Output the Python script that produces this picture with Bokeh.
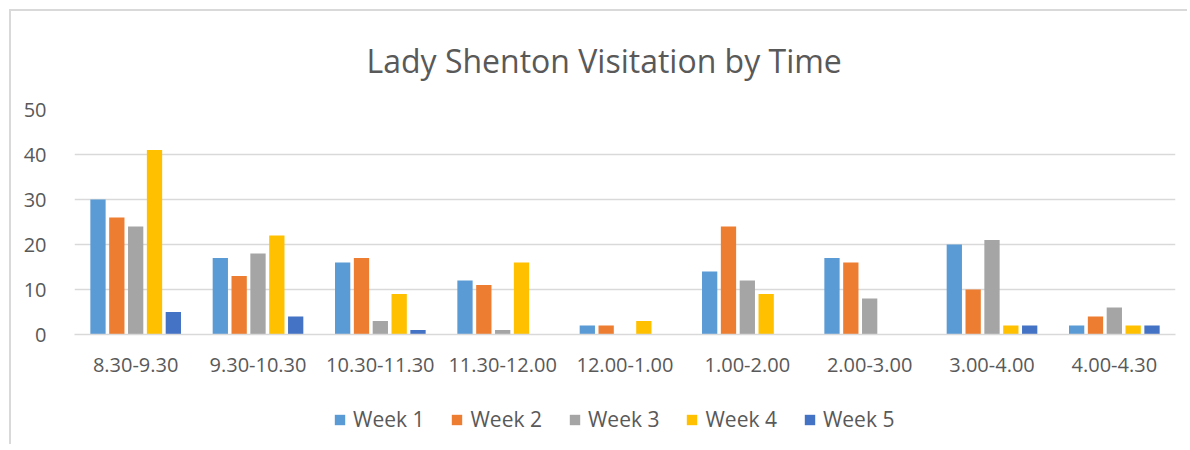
from bokeh.plotting import figure
from bokeh.layouts import column
from bokeh.models import ColumnDataSource, FactorRange, Legend, LegendItem, SingleIntervalTicker, Range1d
from bokeh.transform import dodge
from bokeh.embed import file_html
from bokeh.resources import INLINE

categories = ["8.30-9.30", "9.30-10.30", "10.30-11.30", "11.30-12.00", "12.00-1.00",
              "1.00-2.00", "2.00-3.00", "3.00-4.00", "4.00-4.30"]
series_names = ["Week 1", "Week 2", "Week 3", "Week 4", "Week 5"]
week1 = [30, 17, 16, 12, 2, 14, 17, 20, 2]
week2 = [26, 13, 17, 11, 2, 24, 16, 10, 4]
week3 = [24, 18, 3, 1, 0, 12, 8, 21, 6]
week4 = [41, 22, 9, 16, 3, 9, 0, 2, 2]
week5 = [5, 4, 1, 0, 0, 0, 0, 2, 2]
colors = ["#5B9BD5", "#ED7D31", "#A5A5A5", "#FFC000", "#4472C4"]

FONT = "Open Sans"
TEXT = "#595959"
GRID = "#D9D9D9"

source = ColumnDataSource(dict(cat=categories, w1=week1, w2=week2, w3=week3, w4=week4, w5=week5))

p = figure(x_range=FactorRange(*categories), y_range=(0, 50),
           frame_width=1101, frame_height=225, output_backend="svg", toolbar_location=None,
           min_border_left=63, min_border_right=12, min_border_top=98, min_border_bottom=50,
           title="Lady Shenton Visitation by Time")
p.outline_line_color = None
p.background_fill_color = "white"
p.border_fill_color = "white"

p.title.text_font = FONT
p.title.text_font_size = "32px"
p.title.text_font_style = "normal"
p.title.text_color = TEXT
p.title.align = "left"
p.title.vertical_align = "top"
p.title.offset = 292
p.title.standoff = 52

step = 0.154
width = 0.125
keys = ["w1", "w2", "w3", "w4", "w5"]
for i, (k, c) in enumerate(zip(keys, colors)):
    p.vbar(x=dodge("cat", (i - 2) * step, range=p.x_range), top=k, width=width,
           source=source, fill_color=c, line_color=None)

p.yaxis.ticker = SingleIntervalTicker(interval=10)
p.yaxis.axis_line_color = None
p.yaxis.major_tick_line_color = None
p.yaxis.minor_tick_line_color = None
p.yaxis.major_label_standoff = 22
p.yaxis.major_label_text_font = FONT
p.yaxis.major_label_text_font_size = "20px"
p.yaxis.major_label_text_color = TEXT

p.xaxis.axis_line_color = GRID
p.xaxis.axis_line_width = 1.5
p.xaxis.major_tick_line_color = None
p.xaxis.minor_tick_line_color = None
p.xaxis.major_label_standoff = 17
p.xaxis.major_label_text_font = FONT
p.xaxis.major_label_text_font_size = "20px"
p.xaxis.major_label_text_color = TEXT

p.xgrid.grid_line_color = None
p.ygrid.grid_line_color = GRID
p.ygrid.grid_line_width = 1.5

# legend strip below the chart; its bars lie outside its visible y-range,
# so only the legend keys show
p2 = figure(width=1176, height=60, x_range=FactorRange(*categories), y_range=Range1d(100, 101),
            x_axis_location=None, y_axis_location=None, min_border=0,
            min_border_left=0, min_border_right=0, min_border_top=0, min_border_bottom=0,
            output_backend="svg", toolbar_location=None)
p2.outline_line_color = None
p2.grid.visible = False
p2.background_fill_color = "white"
p2.border_fill_color = "white"

items = []
for i, (k, name, c) in enumerate(zip(keys, series_names, colors)):
    r = p2.vbar(x=dodge("cat", (i - 2) * step, range=p2.x_range), top=k, width=width,
                source=source, fill_color=c, line_color=None)
    items.append(LegendItem(label=name, renderers=[r]))

legend = Legend(items=items, orientation="horizontal", location=(259, 11),
                glyph_width=13, glyph_height=13, label_standoff=7, spacing=26,
                label_text_font=FONT, label_text_font_size="21px", label_text_color=TEXT,
                border_line_color=None, background_fill_alpha=0, margin=0, padding=0)
p2.add_layout(legend, "center")

layout = column(p, p2, spacing=0)
layout.styles = {"border-left": "2px solid #D9D9D9", "border-top": "2px solid #D9D9D9",
                 "margin-left": "9px", "margin-top": "9px"}

open("out.html", "w").write(file_html(layout, INLINE))
